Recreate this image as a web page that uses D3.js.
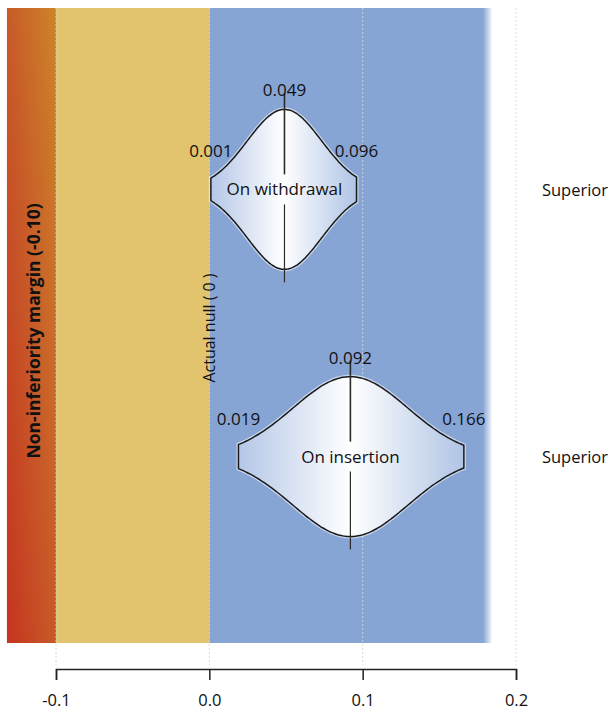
<!DOCTYPE html>
<html>
<head>
<meta charset="utf-8">
<script src="https://cdn.jsdelivr.net/npm/d3@7"></script>
<style>
  body { margin: 0; background: #fff; }
  text { font-family: "Open Sans", "DejaVu Sans", sans-serif; fill: #111; }
</style>
</head>
<body>
<svg id="chart" width="611" height="713"></svg>
<script>
// Risk-difference estimates with 95% confidence limits
const comparisons = ["On withdrawal", "On insertion"];
const estimates   = [0.049, 0.092];
const lowerBounds = [0.001, 0.019];
const upperBounds = [0.096, 0.166];
const verdicts    = ["Superior", "Superior"];

// Axis ticks and reference values
const tickValues  = [-0.1, 0.0, 0.1, 0.2];
const marginValue = -0.10;
const nullValue   = 0;

// Background zones: inferior | non-inferior | superior
const zoneEdges = [-0.132, -0.1, 0, 0.184];
const zoneFills = ["url(#inferiorGrad)", "#e2c46f", "url(#superiorGrad)"];

const svg = d3.select("#chart");

const x = d3.scaleLinear().domain([-0.1, 0.2]).range([56, 516]);
const y = d3.scalePoint().domain(comparisons).range([5, 641]).padding(0.69);

const panelTop = 8, panelBottom = 643, axisY = 669;

// Gradient definitions
const defs = svg.append("defs");
const inf = defs.append("linearGradient").attr("id", "inferiorGrad")
  .attr("x1", 0).attr("y1", 1).attr("x2", 1).attr("y2", 0);
inf.append("stop").attr("offset", "0%").attr("stop-color", "#c5341f");
inf.append("stop").attr("offset", "50%").attr("stop-color", "#c85a28");
inf.append("stop").attr("offset", "100%").attr("stop-color", "#cd842a");

const sup = defs.append("linearGradient").attr("id", "superiorGrad")
  .attr("x1", 0).attr("y1", 0).attr("x2", 1).attr("y2", 0);
sup.append("stop").attr("offset", "0%").attr("stop-color", "#87a5d4");
sup.append("stop").attr("offset", "97%").attr("stop-color", "#87a5d4");
sup.append("stop").attr("offset", "100%").attr("stop-color", "#87a5d4").attr("stop-opacity", 0.15);

const vio = defs.append("linearGradient").attr("id", "violinGrad")
  .attr("x1", 0).attr("y1", 0).attr("x2", 1).attr("y2", 0);
vio.append("stop").attr("offset", "0%").attr("stop-color", "#b4c7e7");
vio.append("stop").attr("offset", "50%").attr("stop-color", "#ffffff");
vio.append("stop").attr("offset", "100%").attr("stop-color", "#b0c4e5");

// Zones
const zones = d3.range(zoneFills.length).map(i => ({ from: zoneEdges[i], to: zoneEdges[i + 1], fill: zoneFills[i] }));
svg.append("g").selectAll("rect").data(zones).join("rect")
  .attr("x", d => x(d.from))
  .attr("y", panelTop)
  .attr("width", d => x(d.to) - x(d.from))
  .attr("height", panelBottom - panelTop)
  .attr("fill", d => d.fill);

// Dotted grid lines
svg.append("g").selectAll("line").data(tickValues).join("line")
  .attr("x1", d => x(d)).attr("x2", d => x(d))
  .attr("y1", panelTop).attr("y2", axisY - 4)
  .attr("stroke", "#d6d6d6")
  .attr("stroke-opacity", 0.85)
  .attr("stroke-dasharray", "2,2");

// Zone labels
svg.append("text")
  .attr("transform", `translate(${(x(zoneEdges[0]) + x(marginValue)) / 2 + 2},331) rotate(-90)`)
  .attr("text-anchor", "middle")
  .attr("dominant-baseline", "central")
  .style("font-size", "17.5px")
  .style("font-weight", 700)
  .text(`Non-inferiority margin (${marginValue.toFixed(2)})`);

svg.append("text")
  .attr("transform", `translate(${x(nullValue)},328) rotate(-90)`)
  .attr("text-anchor", "middle")
  .attr("dominant-baseline", "central")
  .style("font-size", "16px")
  .text(`Actual null ( ${nullValue} )`);

// Violins: normal density across the confidence interval
const halfHeight = 80;
const rows = comparisons.map((c, i) => ({
  name: c, est: estimates[i], lo: lowerBounds[i], hi: upperBounds[i], verdict: verdicts[i]
}));

const g = svg.append("g").selectAll("g").data(rows).join("g");

g.each(function (d) {
  const sel = d3.select(this);
  const cy = y(d.name);
  const sigma = (d.hi - d.lo) / (2 * 1.96);
  const pts = d3.range(0, 81).map(k => d.lo + (d.hi - d.lo) * k / 80);
  const dens = v => halfHeight * Math.exp(-0.5 * ((v - d.est) / sigma) ** 2);
  const area = d3.area()
    .x(v => x(v))
    .y0(v => cy - dens(v))
    .y1(v => cy + dens(v))
    .curve(d3.curveBasis);
  const path = area(pts) + "Z";

  sel.append("path").attr("d", path)
    .attr("fill", "none").attr("stroke", "#ffffff").attr("stroke-opacity", 0.55).attr("stroke-width", 4);
  sel.append("path").attr("d", path)
    .attr("fill", "url(#violinGrad)").attr("stroke", "#1a1a1a").attr("stroke-width", 1.5);

  const cx = x(d.est);
  const top = cy - halfHeight, bottom = cy + halfHeight;
  sel.append("line").attr("x1", cx).attr("x2", cx)
    .attr("y1", top - 16).attr("y2", cy - 15)
    .attr("stroke", "#2a2a2a").attr("stroke-width", 1.6);
  sel.append("line").attr("x1", cx).attr("x2", cx)
    .attr("y1", cy + 15).attr("y2", bottom + 13)
    .attr("stroke", "#2a2a2a").attr("stroke-width", 1.2);

  sel.append("text").attr("x", cx).attr("y", cy).attr("dy", "0.35em")
    .attr("text-anchor", "middle").style("font-size", "17px").text(d.name);

  sel.append("text").attr("x", cx).attr("y", top - 19).attr("dy", "0.35em")
    .attr("text-anchor", "middle").style("font-size", "17px").text(d.est.toFixed(3));
  sel.append("text").attr("x", x(d.lo)).attr("y", cy - 38).attr("dy", "0.35em")
    .attr("text-anchor", "middle").style("font-size", "17px").text(d.lo.toFixed(3));
  sel.append("text").attr("x", x(d.hi)).attr("y", cy - 38).attr("dy", "0.35em")
    .attr("text-anchor", "middle").style("font-size", "17px").text(d.hi.toFixed(3));

  sel.append("text").attr("x", 575).attr("y", cy + 1).attr("dy", "0.35em")
    .attr("text-anchor", "middle").style("font-size", "16.5px").text(d.verdict);
});

// Bottom axis
const axis = d3.axisBottom(x)
  .tickValues(tickValues)
  .tickSize(11)
  .tickSizeOuter(11)
  .tickPadding(14)
  .tickFormat(d => d.toFixed(1));

const ax = svg.append("g").attr("transform", `translate(0,${axisY})`).call(axis);
ax.select(".domain").attr("stroke", "#222").attr("stroke-width", 1.5);
ax.selectAll(".tick line").attr("stroke", "#222").attr("stroke-width", 1.5);
ax.selectAll(".tick text")
  .style("font-family", '"Open Sans", sans-serif')
  .style("font-size", "16.5px")
  .attr("fill", "#111");
</script>
</body>
</html>
